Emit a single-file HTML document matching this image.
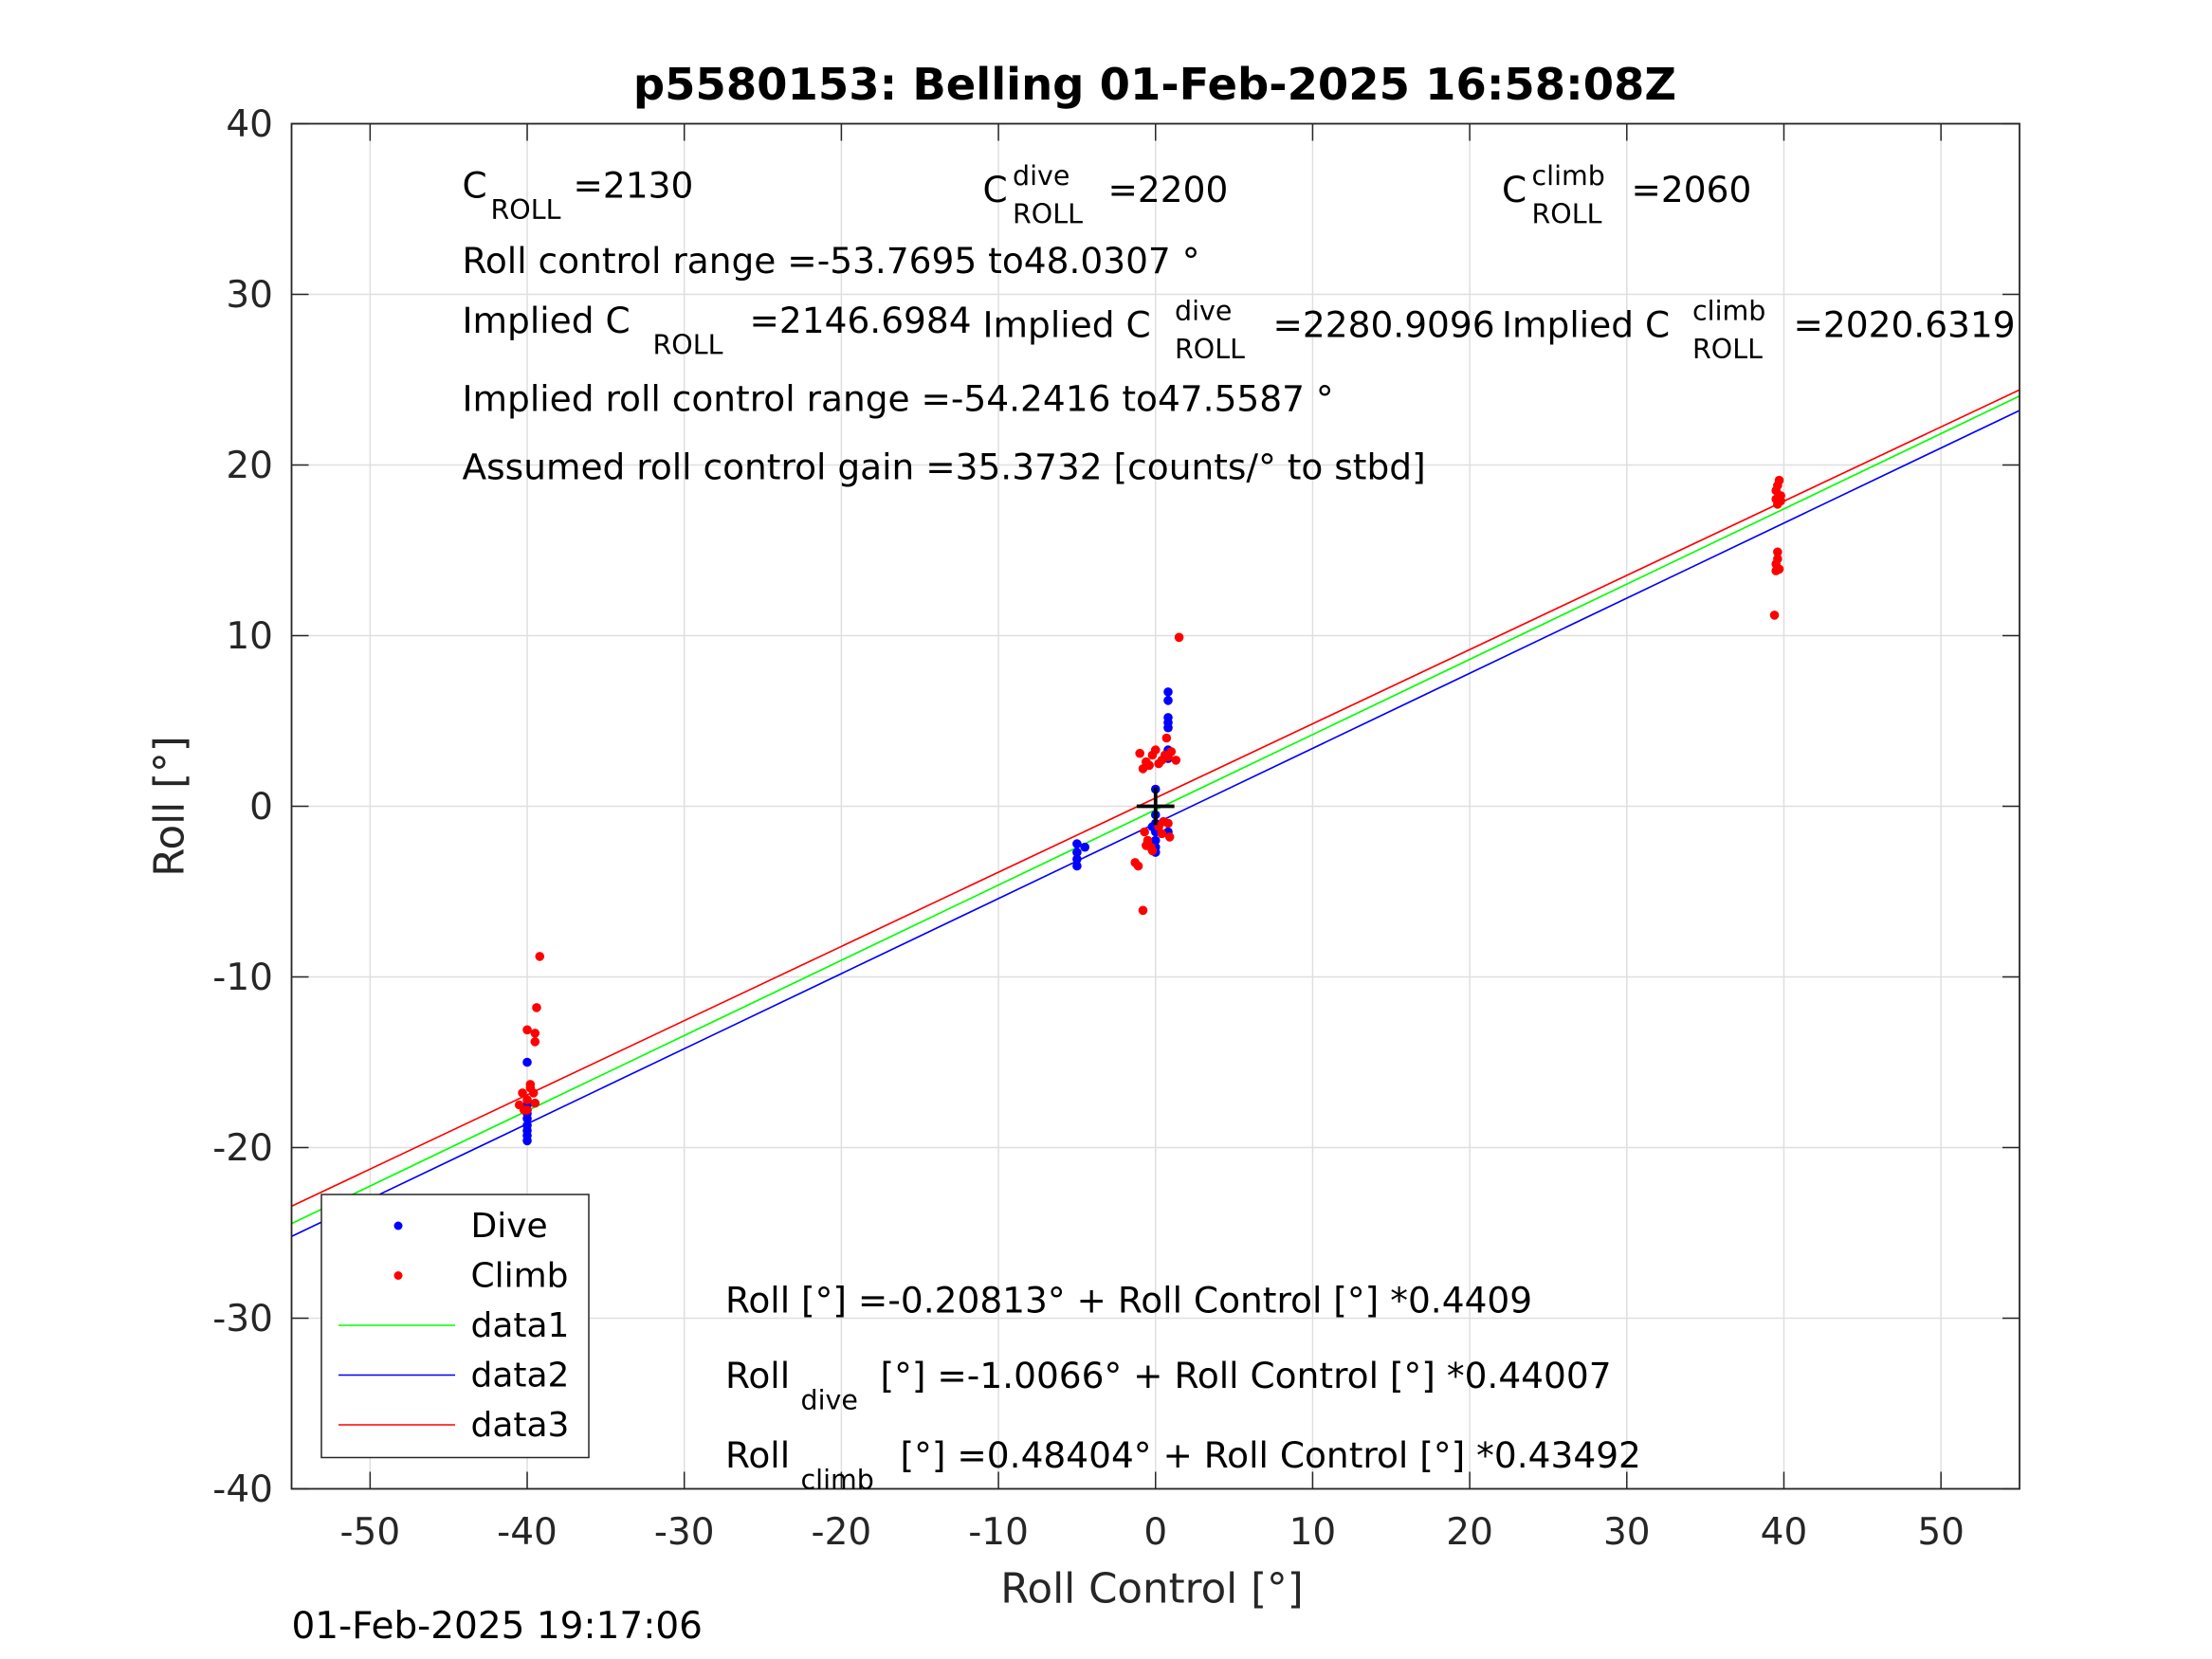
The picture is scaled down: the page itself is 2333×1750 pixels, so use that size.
<!DOCTYPE html>
<html><head><meta charset="utf-8"><style>
html,body{margin:0;padding:0;background:#fff;}
svg{display:block;font-family:"DejaVu Sans","Liberation Sans",sans-serif;}
</style></head><body>
<svg id="chart" width="2333" height="1750" viewBox="0 0 1555.33 1166.67" xmlns="http://www.w3.org/2000/svg">
<rect x="0" y="0" width="1556" height="1167" fill="#fff"/>
<text x="812" y="70" text-anchor="middle" font-size="31" font-weight="bold">p5580153: Belling 01-Feb-2025 16:58:08Z</text>
<g id="grid"></g>
<g id="lines"></g>
<g id="pts"></g>
<rect x="205" y="87" width="1215" height="960" fill="none" stroke="#262626" stroke-width="1.2"/>
<g id="ticks" font-size="26" fill="#262626"></g>
<text x="810" y="1127" text-anchor="middle" font-size="29" fill="#262626">Roll Control [°]</text>
<text transform="translate(129,567) rotate(-90)" text-anchor="middle" font-size="29" fill="#262626">Roll [°]</text>
<text x="205" y="1152" font-size="26">01-Feb-2025 19:17:06</text>
<g font-size="25" fill="#000">
<text x="325" y="139">C</text><text x="345" y="154" font-size="19">ROLL</text><text x="403" y="139">=2130</text>
<text x="691" y="142">C</text><text x="712" y="130" font-size="19">dive</text><text x="712" y="157" font-size="19">ROLL</text><text x="779" y="142">=2200</text>
<text x="1056" y="142">C</text><text x="1077" y="130" font-size="19">climb</text><text x="1077" y="157" font-size="19">ROLL</text><text x="1147" y="142">=2060</text>
<text x="325" y="192">Roll control range =-53.7695 to48.0307 °</text>
<text x="325" y="234">Implied C</text><text x="459" y="249" font-size="19">ROLL</text><text x="527" y="234">=2146.6984</text>
<text x="691" y="237">Implied C</text><text x="826" y="225" font-size="19">dive</text><text x="826" y="252" font-size="19">ROLL</text><text x="895" y="237">=2280.9096</text>
<text x="1056" y="237">Implied C</text><text x="1190" y="225" font-size="19">climb</text><text x="1190" y="252" font-size="19">ROLL</text><text x="1261" y="237">=2020.6319</text>
<text x="325" y="289">Implied roll control range =-54.2416 to47.5587 °</text>
<text x="325" y="337">Assumed roll control gain =35.3732 [counts/° to stbd]</text>
<text x="510" y="923">Roll [°] =-0.20813° + Roll Control [°] *0.4409</text>
<text x="510" y="976">Roll</text><text x="563" y="991" font-size="19">dive</text><text x="619" y="976">[°] =-1.0066° + Roll Control [°] *0.44007</text>
<text x="510" y="1032">Roll</text><text x="563" y="1047" font-size="19">climb</text><text x="633" y="1032">[°] =0.48404° + Roll Control [°] *0.43492</text>
</g>
<g>
<rect x="226" y="840" width="188" height="185" fill="#fff" stroke="#262626" stroke-width="1"/>
<circle cx="280" cy="862" r="3" fill="#0000ff"/>
<text x="331" y="870" font-size="24">Dive</text>
<circle cx="280" cy="897" r="3" fill="#ff0000"/>
<text x="331" y="905" font-size="24">Climb</text>
<line x1="238" y1="932" x2="320" y2="932" stroke="#00ff00" stroke-width="1"/>
<text x="331" y="940" font-size="24">data1</text>
<line x1="238" y1="967" x2="320" y2="967" stroke="#0000ff" stroke-width="1"/>
<text x="331" y="975" font-size="24">data2</text>
<line x1="238" y1="1002" x2="320" y2="1002" stroke="#ff0000" stroke-width="1"/>
<text x="331" y="1010" font-size="24">data3</text>
</g>
</svg>
<script>
const xTicks=[-50,-40,-30,-20,-10,0,10,20,30,40,50];
const yTicks=[-40,-30,-20,-10,0,10,20,30,40];
const fitIntercepts=[-0.20813,-1.0066,0.48404];
const fitSlopes=[0.4409,0.44007,0.43492];
const fitColors=["#00ff00","#0000ff","#ff0000"];
const diveX=[-40,-40,-40,-40,-40,-40,-40,-40,-40,-5,-5,-5,-5,-4.5,0,0,0,0,0,0,0,-0.2,0.8,0.8,0.8,0.8,0.8,0.8,0.8,0.8];
const diveY=[-15,-17.5,-18,-18.3,-18.7,-19,-19.3,-19.6,-17.8,-2.2,-2.7,-3.1,-3.5,-2.4,1,-0.5,-1,-1.5,-2,-2.4,-2.7,-1.2,6.7,6.2,4.9,4.6,5.2,3.3,2.8,-1.5];
const climbX=[-40.5,-40.2,-40,-39.8,-39.6,-40.3,-39.8,-40,-39.5,-39.5,-39.4,-39.2,-40,-39.5,-1,-0.8,-0.6,-0.4,-0.2,0,0.2,0.4,0.6,0.8,1,1.3,-0.7,-0.5,-0.3,0.2,0.5,0.9,-1.3,-1.1,-0.8,0.7,1.5,-0.6,-0.2,0.4,0.8];
const climbY=[-17.5,-17.8,-17.2,-16.5,-16.8,-16.8,-16.3,-13.1,-13.3,-13.8,-11.8,-8.8,-17.8,-17.4,3.1,2.2,2.6,2.4,3,3.3,2.5,2.7,3,2.9,3.2,2.7,-1.5,-2,-2.4,-1.2,-0.9,-1.8,-3.3,-3.5,-6.1,4,9.9,-2.3,-2.6,-1.6,-1];
const climb40X=[39.5,39.6,39.7,39.8,39.6,39.5,39.8,39.6,39.5,39.7,39.6,39.4,39.5];
const climb40Y=[18.5,18.8,19.1,18.2,17.7,18,17.9,14.9,14.2,13.9,14.5,11.2,13.8];
const NS="http://www.w3.org/2000/svg";
const X0=205,X1=1420,Y0=1047,Y1=87;
function sx(v){return X0+(v+55)/110*(X1-X0);}
function sy(v){return Y0-(v+40)/80*(Y0-Y1);}
function mk(tag,attrs,parent){const e=document.createElementNS(NS,tag);for(const k in attrs)e.setAttribute(k,attrs[k]);parent.appendChild(e);return e;}
const grid=document.getElementById('grid'),ticks=document.getElementById('ticks');
xTicks.forEach(t=>{
  const g=mk('line',{x1:sx(t),x2:sx(t),y1:Y1,y2:Y0,stroke:'#dfdfdf','stroke-width':1},grid);
  
  
  mk('line',{x1:sx(t),x2:sx(t),y1:Y0,y2:Y0-12,stroke:'#262626','stroke-width':1},ticks);
  mk('line',{x1:sx(t),x2:sx(t),y1:Y1,y2:Y1+12,stroke:'#262626','stroke-width':1},ticks);
  const l=mk('text',{x:sx(t),y:Y0+39,'text-anchor':'middle'},ticks);
  l.textContent=String(t);
  
  
});
yTicks.forEach(t=>{
  const g=mk('line',{x1:X0,x2:X1,y1:sy(t),y2:sy(t),stroke:'#dfdfdf','stroke-width':1},grid);
  
  
  mk('line',{x1:X0,x2:X0+12,y1:sy(t),y2:sy(t),stroke:'#262626','stroke-width':1},ticks);
  mk('line',{x1:X1,x2:X1-12,y1:sy(t),y2:sy(t),stroke:'#262626','stroke-width':1},ticks);
  const l=mk('text',{x:X0-13,y:sy(t)+9,'text-anchor':'end'},ticks);
  l.textContent=String(t);
  
  
});
const lines=document.getElementById('lines');
fitSlopes.forEach((m,i)=>{
  const b=fitIntercepts[i];
  const ln=mk('line',{x1:sx(-55),y1:sy(b+m*-55),x2:sx(55),y2:sy(b+m*55),stroke:fitColors[i],'stroke-width':1.1},lines);
  
  
});
const pts=document.getElementById('pts');
diveX.forEach((x,i)=>{
  const c=mk('circle',{cx:sx(x),cy:sy(diveY[i]),r:3.2,fill:'#0000ff'},pts);
  
  
});
climbX.concat(climb40X).forEach((x,i)=>{
  const y=climbY.concat(climb40Y)[i];
  const c=mk('circle',{cx:sx(x),cy:sy(y),r:3.2,fill:'#ff0000'},pts);
  
  
});
const cross=mk('path',{d:`M${sx(-1.2)} ${sy(0)}H${sx(1.2)}M${sx(0)} ${sy(1.1)}V${sy(-1.1)}`,stroke:'#000','stroke-width':2.5},pts);


</script>
</body></html>
